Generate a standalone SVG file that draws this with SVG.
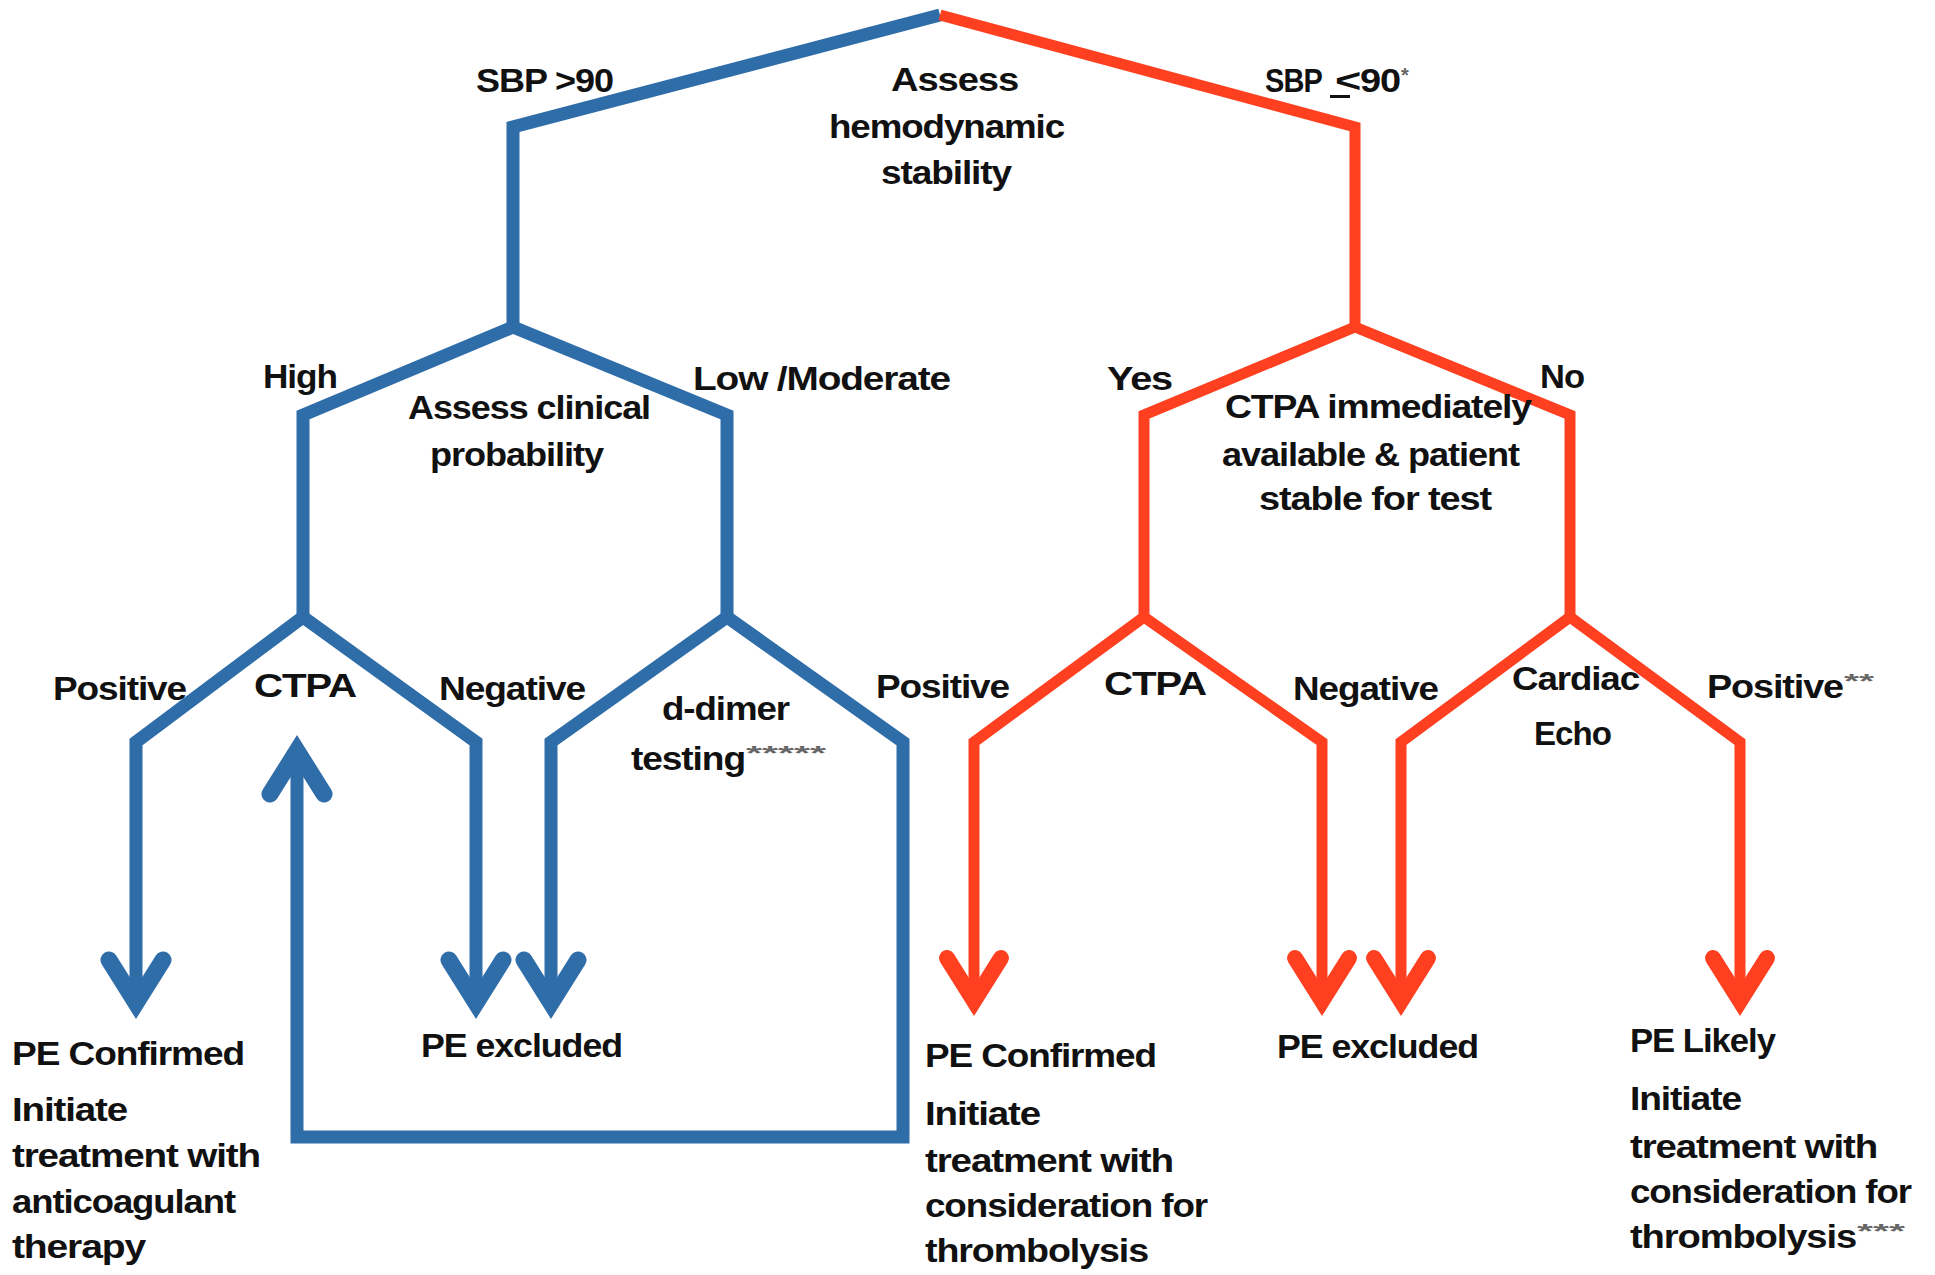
<svg xmlns="http://www.w3.org/2000/svg" xmlns:xlink="http://www.w3.org/1999/xlink" width="1935" height="1275" viewBox="0 0 1935 1275">
<style>
  .bg{fill:#ffffff}
  .blue{fill:none;stroke:#2F6DA9;stroke-width:13;stroke-linejoin:miter;stroke-linecap:butt}
  .red{fill:none;stroke:#FF4020;stroke-width:11;stroke-linejoin:miter;stroke-linecap:butt}
  .bhead{fill:none;stroke:#2F6DA9;stroke-width:17;stroke-linejoin:miter;stroke-linecap:round}
  .rhead{fill:none;stroke:#FF4020;stroke-width:16;stroke-linejoin:miter;stroke-linecap:round}
  .t{font-family:"Liberation Sans",Arial,sans-serif;font-weight:bold;font-size:34px;fill:#111;letter-spacing:-1px}
  .sup{font-family:"Liberation Sans",Arial,sans-serif;font-weight:bold;font-size:20px;fill:#666}
</style>
<defs>
  <path id="head" d="M-27,-58 L0,-15 L27,-58"/>
</defs>
<rect class="bg" x="0" y="0" width="1935" height="1275"/>

<g id="connectors">
  <!-- blue branch -->
  <path class="blue" d="M940,15 L513,127 L513,327"/>
  <path class="blue" d="M513,327 L303,415 L303,617"/>
  <path class="blue" d="M513,327 L727,415 L727,617"/>
  <path class="blue" d="M303,617 L136,742 L136,1003"/>
  <path class="blue" d="M303,617 L476,742 L476,1003"/>
  <path class="blue" d="M727,617 L551,742 L551,1003"/>
  <path class="blue" d="M727,617 L903,742 L903,1137 L297,1137 L297,750"/>
  <use xlink:href="#head" class="bhead" transform="translate(136,1018)"/>
  <use xlink:href="#head" class="bhead" transform="translate(476,1018)"/>
  <use xlink:href="#head" class="bhead" transform="translate(551,1018)"/>
  <use xlink:href="#head" class="bhead" transform="translate(297,736) rotate(180)"/>
  <!-- red branch -->
  <path class="red" d="M940,15 L1355,127 L1355,327"/>
  <path class="red" d="M1355,327 L1144,415 L1144,617"/>
  <path class="red" d="M1355,327 L1570,415 L1570,617"/>
  <path class="red" d="M1144,617 L974,742 L974,1001"/>
  <path class="red" d="M1144,617 L1322,742 L1322,1001"/>
  <path class="red" d="M1570,617 L1401,742 L1401,1001"/>
  <path class="red" d="M1570,617 L1740,742 L1740,1001"/>
  <use xlink:href="#head" class="rhead" transform="translate(974,1016)"/>
  <use xlink:href="#head" class="rhead" transform="translate(1322,1016)"/>
  <use xlink:href="#head" class="rhead" transform="translate(1401,1016)"/>
  <use xlink:href="#head" class="rhead" transform="translate(1740,1016)"/>
</g>

<g id="edge-labels">
  <text class="t" x="476" y="92" textLength="137" lengthAdjust="spacingAndGlyphs">SBP &gt;90</text>
  <g id="sbp-le-90">
    <text class="t" x="1265" y="92" textLength="57" lengthAdjust="spacingAndGlyphs">SBP</text>
    <rect x="1330" y="95" width="20" height="3" fill="#111"/>
    <text class="t" x="1335" y="92" textLength="25" lengthAdjust="spacingAndGlyphs">&lt;</text>
    <text class="t" x="1360" y="92" textLength="40" lengthAdjust="spacingAndGlyphs">90</text>
    <text class="sup" x="1401" y="82">*</text>
  </g>
  <text class="t" x="263" y="388" textLength="74" lengthAdjust="spacingAndGlyphs">High</text>
  <text class="t" x="693" y="390" textLength="257" lengthAdjust="spacingAndGlyphs">Low /Moderate</text>
  <text class="t" x="1107" y="390" textLength="65" lengthAdjust="spacingAndGlyphs">Yes</text>
  <text class="t" x="1540" y="388" textLength="44" lengthAdjust="spacingAndGlyphs">No</text>
  <text class="t" x="53" y="700" textLength="133" lengthAdjust="spacingAndGlyphs">Positive</text>
  <text class="t" x="439" y="700" textLength="146" lengthAdjust="spacingAndGlyphs">Negative</text>
  <text class="t" x="876" y="698" textLength="133" lengthAdjust="spacingAndGlyphs">Positive</text>
  <text class="t" x="1293" y="700" textLength="145" lengthAdjust="spacingAndGlyphs">Negative</text>
  <g id="positive-2star">
    <text class="t" x="1707" y="698" textLength="136" lengthAdjust="spacingAndGlyphs">Positive</text>
    <text class="sup" x="1844" y="688" textLength="30" lengthAdjust="spacingAndGlyphs">**</text>
  </g>
</g>

<g id="node-hemodynamic">
  <text class="t" x="891" y="91" textLength="127" lengthAdjust="spacingAndGlyphs">Assess</text>
  <text class="t" x="829" y="138" textLength="235" lengthAdjust="spacingAndGlyphs">hemodynamic</text>
  <text class="t" x="881" y="184" textLength="130" lengthAdjust="spacingAndGlyphs">stability</text>
</g>

<g id="node-clinical">
  <text class="t" x="408" y="419" textLength="242" lengthAdjust="spacingAndGlyphs">Assess clinical</text>
  <text class="t" x="430" y="466" textLength="173" lengthAdjust="spacingAndGlyphs">probability</text>
</g>

<g id="node-ctpa-available">
  <text class="t" x="1225" y="418" textLength="306" lengthAdjust="spacingAndGlyphs">CTPA immediately</text>
  <text class="t" x="1222" y="466" textLength="297" lengthAdjust="spacingAndGlyphs">available &amp; patient</text>
  <text class="t" x="1259" y="510" textLength="232" lengthAdjust="spacingAndGlyphs">stable for test</text>
</g>

<g id="node-ctpa-blue">
  <text class="t" x="254" y="697" textLength="102" lengthAdjust="spacingAndGlyphs">CTPA</text>
</g>

<g id="node-ddimer">
  <text class="t" x="662" y="720" textLength="127" lengthAdjust="spacingAndGlyphs">d-dimer</text>
  <text class="t" x="631" y="770" textLength="114" lengthAdjust="spacingAndGlyphs">testing</text>
  <text class="sup" x="746" y="760" textLength="80" lengthAdjust="spacingAndGlyphs">*****</text>
</g>

<g id="node-ctpa-red">
  <text class="t" x="1104" y="695" textLength="102" lengthAdjust="spacingAndGlyphs">CTPA</text>
</g>

<g id="node-echo">
  <text class="t" x="1512" y="690" textLength="127" lengthAdjust="spacingAndGlyphs">Cardiac</text>
  <text class="t" x="1534" y="745" textLength="77" lengthAdjust="spacingAndGlyphs">Echo</text>
</g>

<g id="node-pe-confirmed-blue">
  <text class="t" x="12" y="1065" textLength="232" lengthAdjust="spacingAndGlyphs">PE Confirmed</text>
  <text class="t" x="12" y="1121" textLength="115" lengthAdjust="spacingAndGlyphs">Initiate</text>
  <text class="t" x="12" y="1167" textLength="248" lengthAdjust="spacingAndGlyphs">treatment with</text>
  <text class="t" x="12" y="1213" textLength="223" lengthAdjust="spacingAndGlyphs">anticoagulant</text>
  <text class="t" x="12" y="1258" textLength="133" lengthAdjust="spacingAndGlyphs">therapy</text>
</g>

<g id="node-pe-excluded-blue">
  <text class="t" x="421" y="1057" textLength="201" lengthAdjust="spacingAndGlyphs">PE excluded</text>
</g>

<g id="node-pe-confirmed-red">
  <text class="t" x="925" y="1067" textLength="231" lengthAdjust="spacingAndGlyphs">PE Confirmed</text>
  <text class="t" x="925" y="1125" textLength="115" lengthAdjust="spacingAndGlyphs">Initiate</text>
  <text class="t" x="925" y="1172" textLength="248" lengthAdjust="spacingAndGlyphs">treatment with</text>
  <text class="t" x="925" y="1217" textLength="282" lengthAdjust="spacingAndGlyphs">consideration for</text>
  <text class="t" x="925" y="1262" textLength="223" lengthAdjust="spacingAndGlyphs">thrombolysis</text>
</g>

<g id="node-pe-excluded-red">
  <text class="t" x="1277" y="1058" textLength="201" lengthAdjust="spacingAndGlyphs">PE excluded</text>
</g>

<g id="node-pe-likely">
  <text class="t" x="1630" y="1052" textLength="145" lengthAdjust="spacingAndGlyphs">PE Likely</text>
  <text class="t" x="1630" y="1110" textLength="111" lengthAdjust="spacingAndGlyphs">Initiate</text>
  <text class="t" x="1630" y="1158" textLength="247" lengthAdjust="spacingAndGlyphs">treatment with</text>
  <text class="t" x="1630" y="1203" textLength="281" lengthAdjust="spacingAndGlyphs">consideration for</text>
  <text class="t" x="1630" y="1248" textLength="226" lengthAdjust="spacingAndGlyphs">thrombolysis</text>
  <text class="sup" x="1857" y="1238" textLength="48" lengthAdjust="spacingAndGlyphs">***</text>
</g>
</svg>
